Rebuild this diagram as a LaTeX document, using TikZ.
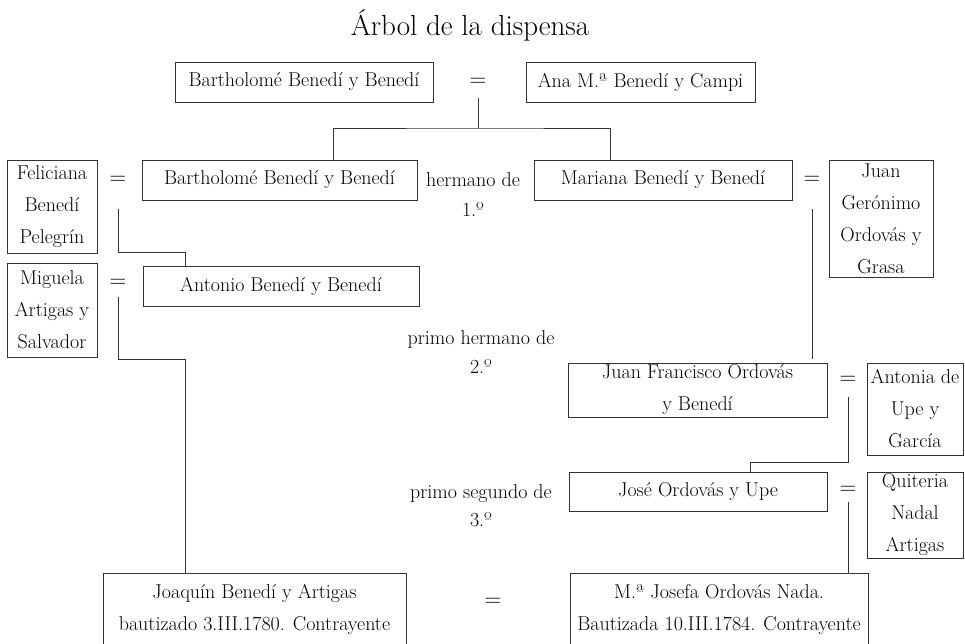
\documentclass[tikz,border=0pt]{standalone}
\usepackage{tikz}

\tikzstyle{person} = [draw=black!80, line width=0.9pt, rectangle, align=center, inner xsep=0pt, inner ysep=2pt]
\tikzstyle{wed} = [inner sep=0pt, font=\fontsize{23}{32}\selectfont]
\tikzstyle{rel} = [align=center, inner sep=0pt]
\tikzstyle{line} = [draw=black!80, line width=0.9pt]

\begin{document}
\begin{tikzpicture}[x=1pt, y=-1pt, font=\fontsize{20}{32}\selectfont]
    \clip (0,0) rectangle (965,643);
    \node [anchor=base, font=\fontsize{29}{32}\selectfont] (title) at (470,35) {Árbol de la dispensa};
    % Place nodes
    \node [person, minimum width=258pt, minimum height=40pt] (bart1) at (304,82) {Bartholomé Benedí y Benedí};
    \node [wed, right of=bart1, node distance=174pt] (eq1) {=};
    \node [person, right of=bart1, node distance=336.5pt, minimum width=229pt, minimum height=40pt] (ana) {Ana M.ª Benedí y Campi};

    \node [person, minimum width=90pt, minimum height=93pt] (feliciana) at (52,206.5) {Feliciana\\Benedí\\Pelegrín};
    \node [wed] (eq2) at (118,180) {=};
    \node [person, minimum width=275pt, minimum height=40pt] (bart2) at (279.5,180) {Bartholomé Benedí y Benedí};
    \node [rel] (herm) at (473,195) {hermano de\\[-2pt]1.º};
    \node [person, right of=bart2, node distance=383.5pt, minimum width=258pt, minimum height=40pt] (mariana) {Mariana Benedí y Benedí};
    \node [wed, right of=mariana, node distance=149pt] (eq3) {=};
    \node [person, minimum width=104pt, minimum height=117pt] (juanger) at (881,218.5) {Juan\\Gerónimo\\Ordovás y\\Grasa};

    \node [person, minimum width=90pt, minimum height=94pt] (miguela) at (52,310) {Miguela\\Artigas y\\Salvador};
    \node [wed] (eq4) at (118,283) {=};
    \node [person, minimum width=276pt, minimum height=40pt] (antonio) at (281,286) {Antonio Benedí y Benedí};
    \node [rel] (primo1) at (481,352) {primo hermano de\\[-3pt]2.º};

    \node [person, minimum width=259pt, minimum height=54pt] (juanfran) at (697.5,390) {Juan Francisco Ordovás\\y Benedí};
    \node [wed] (eq5) at (848,380) {=};
    \node [person, minimum width=96pt, minimum height=92pt] (antonia) at (915,409) {Antonia de\\Upe y\\García};

    \node [rel] (primo2) at (481,506) {primo segundo de\\[-4pt]3.º};
    \node [person, minimum width=258pt, minimum height=39pt] (jose) at (698,491.5) {José Ordovás y Upe};
    \node [wed] (eq6) at (848,490) {=};
    \node [person, minimum width=96pt, minimum height=86pt] (quiteria) at (915,515) {Quiteria\\Nadal\\Artigas};

    \node [person, minimum width=303pt, minimum height=72pt] (joaquin) at (254.5,609) {Joaquín Benedí y Artigas\\bautizado 3.III.1780. Contrayente};
    \node [wed] (eq7) at (493,602) {=};
    \node [person, minimum width=298pt, minimum height=72pt] (josefa) at (719,609) {M.ª Josefa Ordovás Nada.\\Bautizada 10.III.1784. Contrayente};
    % Draw edges
    \coordinate (fork1) at (478,128);
    \draw [line] ([yshift=-16pt]eq1.center) -- (fork1);
    \draw [line] ([xshift=53.5pt]bart2.north) |- (fork1) -| ([xshift=-53pt]mariana.north);
    \draw [line] ([yshift=-29pt]eq2.center) -- ++(0,43) -| ([xshift=-96pt]antonio.north);
    \draw [line, shorten >=4pt] ([yshift=-29pt]eq3.center) -- ([xshift=114.5pt]juanfran.north);
    \draw [line] ([yshift=-14pt]eq4.center) -- ++(0,62) -| ([xshift=-69.5pt]joaquin.north);
    \draw [line] ([yshift=-17pt]eq5.center) -- ++(0,65) -| ([xshift=52pt]jose.north);
    \draw [line] ([yshift=-12pt]eq6.center) -- ([xshift=129pt]josefa.north);
\end{tikzpicture}
\end{document}
